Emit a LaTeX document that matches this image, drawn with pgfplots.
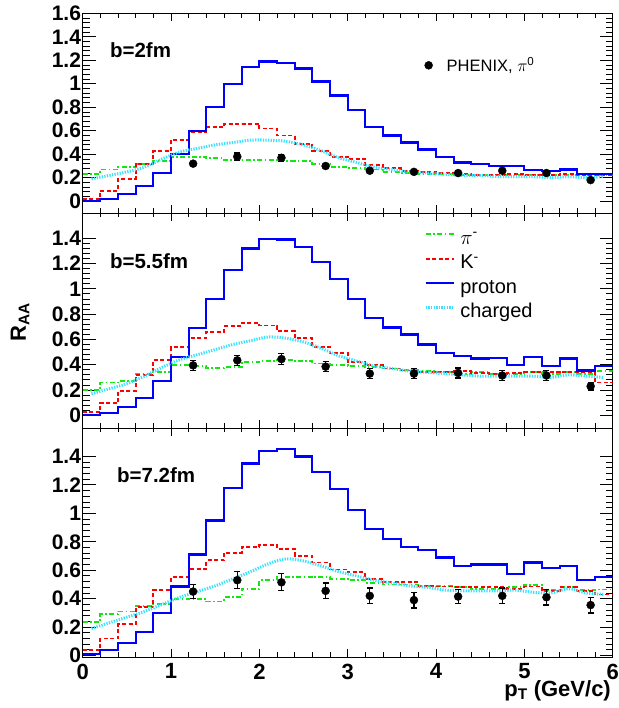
\documentclass[border=0pt]{standalone}
\usepackage{fontspec}
\setmainfont{Liberation Sans}
\usepackage{pgfplots}
\usepackage{pgfplotstable}
\pgfplotsset{compat=1.18}

\definecolor{rblue}{RGB}{0,0,255}
\definecolor{rred}{RGB}{255,0,0}
\definecolor{rgreen}{RGB}{20,230,20}
\definecolor{rcyan}{RGB}{60,225,255}

% x = bin left edge, xc = bin centre
\pgfplotstableread{
x   xc   p     k     pi    ch
0.0 0.1  0.00  0.02  0.23  0.19
0.2 0.3  0.02  0.09  0.27  0.22
0.4 0.5  0.06  0.19  0.29  0.25
0.6 0.7  0.13  0.32  0.32  0.29
0.8 0.9  0.24  0.43  0.34  0.36
1.0 1.1  0.40  0.52  0.38  0.42
1.2 1.3  0.60  0.59  0.38  0.45
1.4 1.5  0.80  0.63  0.37  0.48
1.6 1.7  1.00  0.66  0.35  0.50
1.8 1.9  1.14  0.66  0.35  0.52
2.0 2.1  1.19  0.62  0.35  0.52
2.2 2.3  1.18  0.56  0.34  0.51
2.4 2.5  1.13  0.49  0.34  0.48
2.6 2.7  1.02  0.43  0.32  0.43
2.8 2.9  0.90  0.38  0.29  0.37
3.0 3.1  0.775 0.36  0.28  0.33
3.2 3.3  0.63  0.31  0.27  0.29
3.4 3.5  0.56  0.28  0.25  0.27
3.6 3.7  0.50  0.26  0.24  0.25
3.8 3.9  0.44  0.25  0.23  0.24
4.0 4.1  0.38  0.24  0.23  0.23
4.2 4.3  0.33  0.23  0.22  0.22
4.4 4.5  0.315 0.22  0.22  0.22
4.6 4.7  0.30  0.22  0.22  0.21
4.8 4.9  0.30  0.23  0.22  0.21
5.0 5.1  0.265 0.22  0.22  0.21
5.2 5.3  0.26  0.22  0.22  0.20
5.4 5.5  0.27  0.23  0.22  0.21
5.6 5.7  0.235 0.22  0.22  0.20
5.8 5.9  0.235 0.22  0.22  0.21
6.0 nan  0.235 0.22  0.22  nan
}\tableA

\pgfplotstableread{
x   xc   p     k     pi    ch
0.0 0.1  0.00  0.025 0.20  0.17
0.2 0.3  0.02  0.095 0.26  0.21
0.4 0.5  0.065 0.195 0.27  0.25
0.6 0.7  0.14  0.32  0.33  0.31
0.8 0.9  0.27  0.44  0.34  0.38
1.0 1.1  0.46  0.54  0.40  0.44
1.2 1.3  0.69  0.61  0.39  0.48
1.4 1.5  0.92  0.66  0.375 0.52
1.6 1.7  1.15  0.705 0.38  0.56
1.8 1.9  1.32  0.73  0.42  0.59
2.0 2.1  1.395 0.71  0.43  0.62
2.2 2.3  1.39  0.665 0.44  0.61
2.4 2.5  1.33  0.61  0.43  0.58
2.6 2.7  1.21  0.54  0.41  0.53
2.8 2.9  1.08  0.49  0.40  0.47
3.0 3.1  0.92  0.42  0.39  0.43
3.2 3.3  0.77  0.395 0.38  0.39
3.4 3.5  0.695 0.37  0.37  0.37
3.6 3.7  0.64  0.355 0.36  0.35
3.8 3.9  0.56  0.34  0.35  0.34
4.0 4.1  0.49  0.34  0.34  0.33
4.2 4.3  0.47  0.35  0.33  0.32
4.4 4.5  0.45  0.335 0.34  0.31
4.6 4.7  0.455 0.33  0.33  0.31
4.8 4.9  0.395 0.335 0.33  0.31
5.0 5.1  0.46  0.34  0.34  0.31
5.2 5.3  0.39  0.345 0.33  0.30
5.4 5.5  0.45  0.34  0.34  0.32
5.6 5.7  0.355 0.34  0.33  0.31
5.8 5.9  0.39  0.26  0.35  0.30
6.0 nan  0.39  0.26  0.35  nan
}\tableB

\pgfplotstableread{
x   xc   p     k     pi    ch
0.0 0.1  0.01  0.04  0.235 0.19
0.2 0.3  0.04  0.12  0.29  0.23
0.4 0.5  0.09  0.22  0.31  0.27
0.6 0.7  0.165 0.34  0.35  0.31
0.8 0.9  0.30  0.46  0.36  0.36
1.0 1.1  0.485 0.55  0.40  0.41
1.2 1.3  0.71  0.61  0.395 0.45
1.4 1.5  0.95  0.67  0.38  0.49
1.6 1.7  1.18  0.72  0.41  0.54
1.8 1.9  1.35  0.765 0.47  0.59
2.0 2.1  1.44  0.78  0.53  0.645
2.2 2.3  1.45  0.75  0.555 0.68
2.4 2.5  1.40  0.70  0.555 0.665
2.6 2.7  1.29  0.655 0.55  0.63
2.8 2.9  1.17  0.605 0.54  0.59
3.0 3.1  1.025 0.585 0.53  0.56
3.2 3.3  0.89  0.54  0.51  0.53
3.4 3.5  0.82  0.515 0.50  0.51
3.6 3.7  0.765 0.515 0.50  0.49
3.8 3.9  0.74  0.49  0.49  0.48
4.0 4.1  0.69  0.485 0.49  0.46
4.2 4.3  0.63  0.48  0.48  0.455
4.4 4.5  0.64  0.48  0.47  0.455
4.6 4.7  0.64  0.48  0.47  0.455
4.8 4.9  0.575 0.47  0.48  0.46
5.0 5.1  0.655 0.485 0.495 0.445
5.2 5.3  0.615 0.455 0.46  0.44
5.4 5.5  0.63  0.48  0.48  0.47
5.6 5.7  0.53  0.455 0.46  0.44
5.8 5.9  0.55  0.43  0.465 0.43
6.0 nan  0.55  0.43  0.465 nan
}\tableC

\pgfplotstableread{
x    y     e
1.25 0.32  0.015
1.75 0.38  0.03
2.25 0.37  0.03
2.75 0.30  0.015
3.25 0.26  0.015
3.75 0.25  0.012
4.25 0.24  0.012
4.75 0.26  0.015
5.25 0.24  0.015
5.75 0.18  0.015
}\dataA

\pgfplotstableread{
x    y     e
1.25 0.395 0.04
1.75 0.435 0.04
2.25 0.445 0.045
2.75 0.385 0.04
3.25 0.33  0.04
3.75 0.33  0.04
4.25 0.335 0.04
4.75 0.315 0.04
5.25 0.315 0.04
5.75 0.23  0.03
}\dataB

\pgfplotstableread{
x    y     e
1.25 0.45  0.05
1.75 0.53  0.06
2.25 0.515 0.06
2.75 0.455 0.055
3.25 0.42  0.055
3.75 0.39  0.055
4.25 0.415 0.05
4.75 0.42  0.055
5.25 0.41  0.055
5.75 0.355 0.055
}\dataC

\pgfplotsset{
  panel/.style={
    scale only axis, width=530pt, anchor=north west,
    xmin=0, xmax=6,
    xtick={0,1,...,6}, minor x tick num=4,
    minor y tick num=4,
    axis line style={line width=0.9pt},
    tick style={black, line width=0.9pt},
    xtick style={/pgfplots/major tick length=8pt, /pgfplots/minor tick length=4.5pt},
    ytick style={/pgfplots/major tick length=13pt, /pgfplots/minor tick length=7pt},
    /pgf/number format/assume math mode=true,
    yticklabel style={font=\fontsize{21}{24}\selectfont\bfseries, inner sep=1.5pt},
    xticklabel style={font=\fontsize{22}{26}\selectfont\bfseries, inner sep=1.5pt, yshift=-5pt},
    clip=true,
  },
  protonst/.style={rblue, line width=2.2pt, const plot},
  kst/.style={rred, line width=1.8pt, const plot, dash pattern=on 4pt off 2.5pt},
  pist/.style={rgreen, line width=1.8pt, const plot, dash pattern=on 5pt off 2.5pt on 1.5pt off 2.5pt},
  chst/.style={rcyan, line width=3pt, smooth, dash pattern=on 1.3pt off 1.3pt},
  datst/.style={black, only marks, mark=*, mark size=4pt},
  errst/.style={black, only marks, mark=none, line width=1.2pt,
    error bars/y dir=both, error bars/y explicit,
    error bars/error bar style={line width=1.2pt},
    error bars/error mark options={black, line width=1.2pt, mark size=3pt, rotate=90}},
}

\begin{document}
\begin{tikzpicture}
\useasboundingbox (0pt,0pt) rectangle (618pt,708pt);

% ---------------- top panel ----------------
\begin{axis}[panel, at={(82.7pt,694.7pt)}, height=199.7pt,
  ymin=-0.1, ymax=1.6, ytick={0,0.2,...,1.6}, xticklabels={},
  legend style={at={(axis cs:3.835,1.157)}, anchor=west, draw=none, fill=none,
    font=\fontsize{16.5}{20}\selectfont,
    /tikz/every odd column/.append style={column sep=12pt}},
  legend cell align=left]
\addplot[pist, forget plot] table[x=x, y=pi] {\tableA};
\addplot[kst, forget plot] table[x=x, y=k] {\tableA};
\addplot[protonst, forget plot] table[x=x, y=p] {\tableA};
\addplot[chst, forget plot] table[x=xc, y=ch] {\tableA};
\addplot[errst, forget plot] table[x=x, y=y, y error=e] {\dataA};
\addplot[datst] table[x=x, y=y] {\dataA};
\addlegendentry{PHENIX, $\pi$\textsuperscript{0}}
\node[anchor=west, font=\fontsize{20.5}{24}\selectfont\bfseries] at (axis cs:0.27,1.29) {b=2fm};
\end{axis}

% ---------------- middle panel ----------------
\begin{axis}[panel, at={(82.7pt,495pt)}, height=215pt,
  ymin=-0.1, ymax=1.6, ytick={0,0.2,...,1.4}, xticklabels={},
  legend style={at={(axis cs:3.865,1.474)}, anchor=north west, draw=none, fill=none,
    inner sep=0pt, font=\fontsize{20}{24}\selectfont, row sep=4.5pt,
    nodes={inner sep=1pt, text height=14pt, text depth=4pt},
    /tikz/every odd column/.append style={column sep=4pt}},
  legend cell align=left,
  legend image code/.code={\draw[#1] (0pt,5pt) -- (28pt,5pt);}]
\addplot[pist] table[x=x, y=pi] {\tableB};
\addlegendentry{$\pi$\textsuperscript{-}}
\addplot[kst] table[x=x, y=k] {\tableB};
\addlegendentry{K\textsuperscript{-}}
\addplot[protonst] table[x=x, y=p] {\tableB};
\addlegendentry{proton}
\addplot[chst] table[x=xc, y=ch] {\tableB};
\addlegendentry{charged}
\addplot[errst, forget plot] table[x=x, y=y, y error=e] {\dataB};
\addplot[datst, forget plot] table[x=x, y=y] {\dataB};
\node[anchor=west, font=\fontsize{20.5}{24}\selectfont\bfseries] at (axis cs:0.27,1.22) {b=5.5fm};
\end{axis}

% ---------------- bottom panel ----------------
\begin{axis}[panel, at={(82.7pt,280pt)}, height=229pt,
  ymin=-0.01, ymax=1.6, ytick={0,0.2,...,1.4}]
\addplot[pist] table[x=x, y=pi] {\tableC};
\addplot[kst] table[x=x, y=k] {\tableC};
\addplot[protonst] table[x=x, y=p] {\tableC};
\addplot[chst] table[x=xc, y=ch] {\tableC};
\addplot[errst] table[x=x, y=y, y error=e] {\dataC};
\addplot[datst] table[x=x, y=y] {\dataC};
\node[anchor=west, font=\fontsize{20.5}{24}\selectfont\bfseries] at (axis cs:0.35,1.27) {b=7.2fm};
\end{axis}

\node[rotate=90, font=\fontsize{22}{26}\selectfont\bfseries] at (20pt,386pt) {R\textsubscript{AA}};
\node[anchor=base east, inner sep=0pt, font=\fontsize{22}{26}\selectfont\bfseries] at (611pt,11.5pt) {p\textsubscript{T} (GeV/c)};
\end{tikzpicture}
\end{document}
